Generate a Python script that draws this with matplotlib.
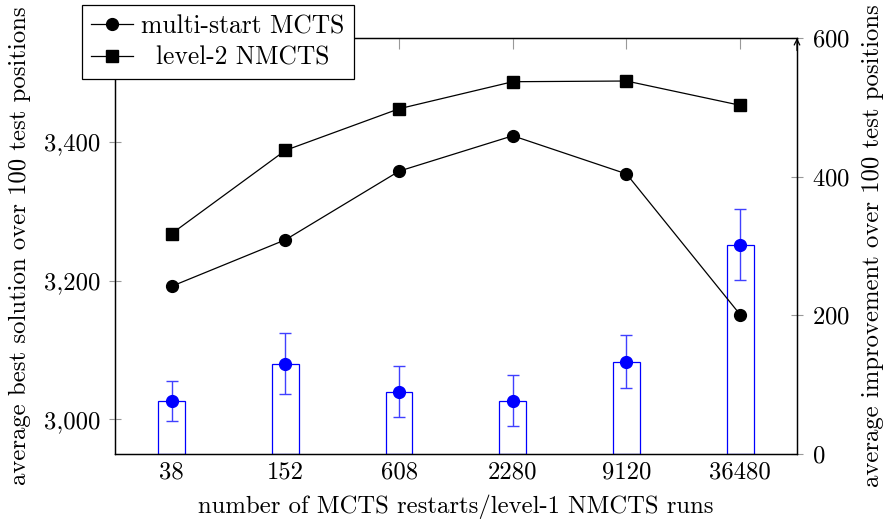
import numpy as np
import matplotlib
matplotlib.use("Agg")
import matplotlib.pyplot as plt
from matplotlib.ticker import FuncFormatter

plt.rcParams['font.family'] = ['cmr10', 'DejaVu Serif']
plt.rcParams['axes.formatter.use_mathtext'] = True
plt.rcParams['mathtext.fontset'] = 'cm'

# data
runs = ["38", "152", "608", "2280", "9120", "36480"]
multi_start = [3192, 3259, 3358, 3409, 3354, 3151]
nested = [3268, 3388, 3448, 3487, 3488, 3453]
improvement = [77, 130, 90, 77, 133, 302]
improvement_err = [29, 44, 37, 37, 38, 51]

x = np.arange(len(runs))

fig = plt.figure(figsize=(8.91, 5.21), dpi=100)
ax = fig.add_axes([0.129, 0.1286, 0.7655, 0.7984])
ax2 = ax.twinx()
ax.set_zorder(ax2.get_zorder() + 1)
ax.patch.set_visible(False)

fs = 17.8
blue = (0, 0, 1)

# improvement bars (right axis)
ax2.bar(x, improvement, width=0.235, facecolor='none', edgecolor=blue, linewidth=0.9)
ax2.errorbar(x, improvement, yerr=improvement_err, fmt='o', color=blue, ms=8.5,
             elinewidth=1.0, capsize=4.5, capthick=1.0, ecolor=(0.25, 0.25, 1))
ax2.set_ylim(0, 600)
ax2.set_yticks([0, 200, 400, 600])
ax2.set_ylabel("average improvement over 100 test positions", fontsize=fs, labelpad=9)

# best solution lines (left axis)
ax.plot(x, multi_start, '-o', color='black', lw=0.9, ms=8.5, label="multi-start MCTS")
ax.plot(x, nested, '-s', color='black', lw=0.9, ms=8, label="level-2 NMCTS")
ax.set_xlim(-0.5, 5.5)
ax.set_ylim(2950, 3550)
ax.set_yticks([3000, 3200, 3400])
ax.yaxis.set_major_formatter(FuncFormatter(lambda v, p: f"{int(v):,}"))
ax.set_xticks(x)
ax.set_xticklabels(runs)
ax.set_xlabel("number of MCTS restarts/level-1 NMCTS runs", fontsize=fs, labelpad=8)
ax.set_ylabel("average best solution over 100 test positions", fontsize=fs, labelpad=9)

for a in (ax, ax2):
    for s in a.spines.values():
        s.set_linewidth(0.9)
ax.tick_params(axis='y', direction='inout', length=9, width=0.8, color='0.6',
               labelsize=fs, pad=6)
ax.tick_params(axis='x', which='both', bottom=False, top=True, direction='in',
               length=8, width=0.8, color='0.6', labelsize=fs, pad=5)
ax2.tick_params(axis='y', direction='inout', length=9, width=0.8, color='0.6',
                labelsize=fs, pad=6)

# arrow head on the right axis
ax2.annotate('', xy=(1, 1.0), xytext=(1, 0.97), xycoords='axes fraction',
             arrowprops=dict(arrowstyle='->', lw=0.9, color='black',
                             shrinkA=0, shrinkB=0), annotation_clip=False)

leg = ax.legend(loc='upper left', bbox_to_anchor=(0.092, 0.99),
                bbox_transform=fig.transFigure, fontsize=18.4, frameon=True,
                fancybox=False, framealpha=1, edgecolor='black',
                borderpad=0.36, handlelength=1.65, handletextpad=0.31,
                labelspacing=0.3, borderaxespad=0)
leg.get_frame().set_linewidth(0.9)
leg.set_zorder(10)

# centre the legend labels in their column, as pgfplots does
fig.canvas.draw()
renderer = fig.canvas.get_renderer()
widths = [t.get_window_extent(renderer).width for t in leg.get_texts()]
for t, w in zip(leg.get_texts(), widths):
    t.set_x((max(widths) - w) / 2)

fig.savefig("out.png", dpi=100)
